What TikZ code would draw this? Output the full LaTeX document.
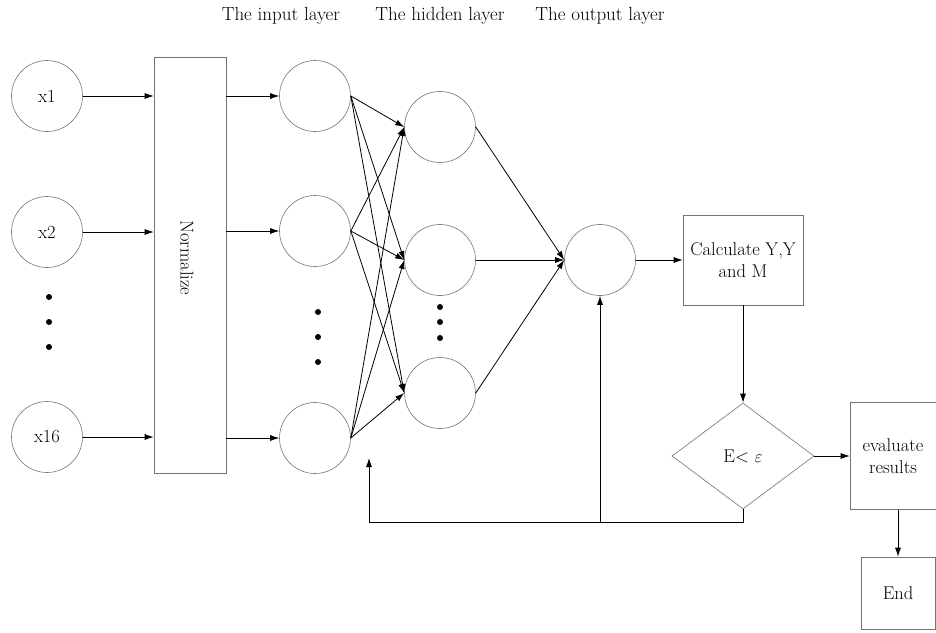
\documentclass[tikz,border=0pt]{standalone}
\usetikzlibrary{shapes.geometric,arrows.meta}
\begin{document}
\begin{tikzpicture}[x=1pt,y=-1pt,
  txt/.style={font=\fontsize{18.5}{22}\selectfont},
  neuron/.style={circle,draw=black!55,line width=0.6pt,minimum size=71pt,inner sep=0pt,txt},
  boxnode/.style={rectangle,draw=black!55,line width=0.6pt,inner sep=0pt,align=center,txt},
  link/.style={-{Latex[length=9pt,width=6pt]},line width=0.8pt},
  plain/.style={line width=0.8pt},
  dotmark/.style={circle,fill=black,minimum size=6pt,inner sep=0pt},
  title/.style={font=\fontsize{19}{22}\selectfont}]
\useasboundingbox (0,0) rectangle (936,632);

% layer titles
\node[title] (t1) at (281,16) {The input layer};
\node[title] (t2) at (440,16) {The hidden layer};
\node[title] (t3) at (600,16) {The output layer};

% raw inputs
\node[neuron] (x1) at (47,96) {x1};
\node[neuron] (x2) at (47,232) {x2};
\node[neuron] (x16) at (47,437) {x16};
\foreach \y [count=\i] in {297,322,347} \node[dotmark] (xd\i) at (49,\y) {};

% normalisation block
\node[boxnode,minimum width=72pt,minimum height=416pt] (norm) at (190,265) {};
\node[rotate=-90,txt] (normtxt) at (187,258) {Normalize};

% input layer
\node[neuron] (i1) at (315,96) {};
\node[neuron] (i2) at (315,231) {};
\node[neuron] (i3) at (315,438) {};
\foreach \y [count=\i] in {312,337,362} \node[dotmark] (id\i) at (318,\y) {};

% hidden layer
\node[neuron] (h1) at (440,127) {};
\node[neuron] (h2) at (440,260) {};
\node[neuron] (h3) at (440,393) {};
\foreach \y [count=\i] in {307,322,338} \node[dotmark] (hd\i) at (440,\y) {};

% output layer
\node[neuron] (o) at (600,260) {};

% flowchart part
\node[boxnode,minimum width=120pt,minimum height=90pt] (calc) at (743,260) {Calculate Y,Y\\and M};
\node[diamond,draw=black!55,line width=0.6pt,minimum width=142pt,minimum height=106pt,inner sep=0pt,aspect=1.34,txt] (cond) at (743,456) {E< $\varepsilon$};
\node[boxnode,minimum width=86pt,minimum height=107pt] (eval) at (893,456) {evaluate\\results};
\node[boxnode,minimum width=74pt,minimum height=72pt] (end) at (898,593) {End};

% inputs to normalisation and on to the input layer
\foreach \s/\t in {x1/i1,x2/i2,x16/i3} {
  \draw[link] (\s.east) -- (\s.east -| norm.west);
  \draw[link] (\t.west -| norm.east) -- (\t.west);
}

% fully connected input -> hidden
\foreach \s in {i1,i2,i3}
  \foreach \t in {h1,h2,h3}
    \draw[link] (\s.east) -- (\t.west);

% hidden -> output
\foreach \s in {h1,h2,h3} \draw[link] (\s.east) -- (o.west);

% output -> calculation -> condition -> evaluation -> end
\draw[link] (o.east) -- (calc.west);
\draw[link] (calc.south) -- (cond.north);
\draw[link] (cond.east) -- (cond.east -| eval.west);
\draw[link] (eval.south -| end.north) -- (end.north);

% feedback loop
\coordinate (fbc) at (743,522);
\coordinate (fbl) at (369,522);
\coordinate (fbt) at (369,458);
\coordinate (fbm) at (600,522);
\draw[plain] (cond.south) -- (fbc) -- (fbl);
\draw[link] (fbl) -- (fbt);
\draw[link] (fbm) -- (o.south);
\end{tikzpicture}
\end{document}
